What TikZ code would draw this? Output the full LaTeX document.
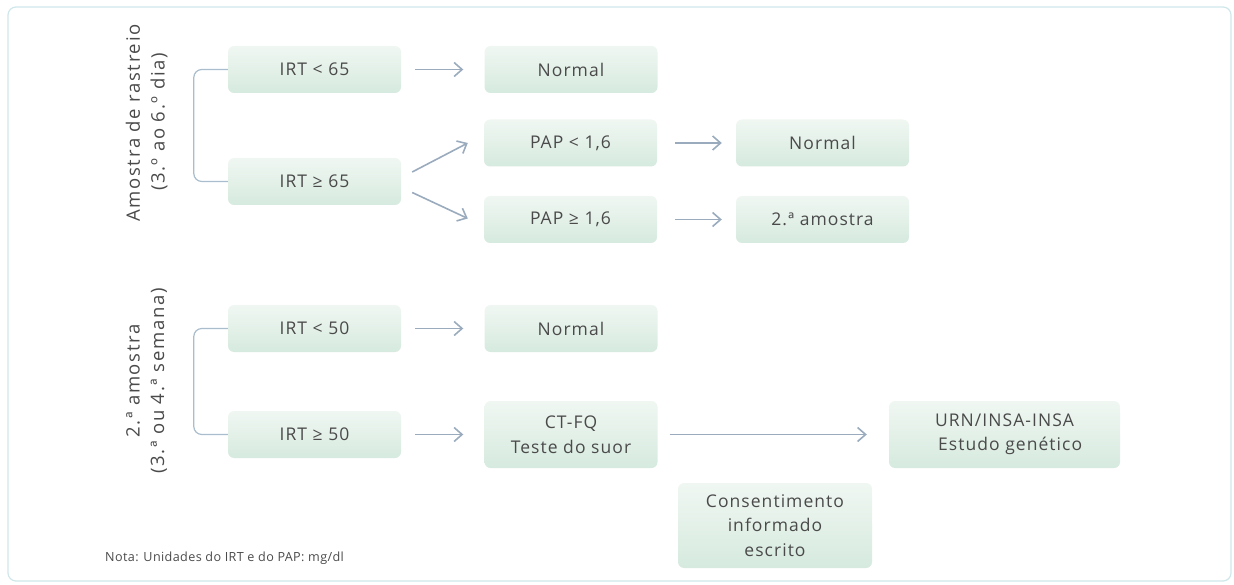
\documentclass[tikz,border=0pt]{standalone}
\usepackage{fontspec}
\setmainfont{Open Sans}[LetterSpace=6]
\usetikzlibrary{arrows.meta}
\definecolor{txt}{HTML}{4A4A4A}
\definecolor{arr}{HTML}{9AABBD}
\definecolor{brk}{HTML}{A9BDCC}
\definecolor{framec}{HTML}{D0E7EA}
\definecolor{boxtop}{HTML}{F0F7F2}
\definecolor{boxbot}{HTML}{D6EADF}
\begin{document}
\begin{tikzpicture}[x=1pt,y=-1pt,
  box/.style={rounded corners=6pt, top color=boxtop, bottom color=boxbot,
    minimum width=173pt, minimum height=47pt, text=txt,
    font=\fontsize{17.5}{24.5}\selectfont, align=center, inner sep=0pt},
  conn/.style={draw=arr, line width=1.6pt, -{Straight Barb[length=8pt,width=14pt]}},
  bracket/.style={draw=brk, line width=1.2pt, rounded corners=8pt},
  side/.style={rotate=90, text=txt, font=\fontsize{18.5}{22}\selectfont\addfontfeatures{LetterSpace=9}, inner sep=0pt},
]
\useasboundingbox (0,0) rectangle (1234,585);
\draw[framec, line width=1.2pt, rounded corners=8pt] (8,7) rectangle (1231,581);

% side labels
\node[side] (l1) at (133,123) {Amostra de rastreio};
\node[side] (l2) at (159,122) {(3.º ao 6.º dia)};
\node[side] (l3) at (133,381) {2.ª amostra};
\node[side] (l4) at (159,381) {(3.ª ou 4.ª semana)};

% boxes
\node[box] (a1) at (314.5,69.5) {IRT < 65};
\node[box] (a2) at (571,69.5) {Normal};
\node[box] (b1) at (314.5,181.5) {IRT ≥ 65};
\node[box] (p1) at (570.5,143) {PAP < 1,6};
\node[box] (n2) at (822.5,143) {Normal};
\node[box] (p2) at (570.5,219.5) {PAP ≥ 1,6};
\node[box] (s2) at (822.5,219.5) {2.ª amostra};
\node[box] (c1) at (314.5,328.5) {IRT < 50};
\node[box] (n3) at (571,328.5) {Normal};
\node[box] (c2) at (314.5,434.5) {IRT ≥ 50};
\node[box, minimum height=67pt] (ct) at (571,434.5) {CT-FQ\\Teste do suor};
\node[box, minimum height=67pt, minimum width=231pt] (urn) at (1004.5,434.5) {URN/INSA-INSA\\\ \ Estudo genético};
\node[box, minimum height=85pt, minimum width=194pt] (cons) at (775,525.5) {Consentimento\\informado\\escrito};

\node[anchor=west, text=txt, font=\fontsize{12.6}{15}\selectfont\addfontfeatures{LetterSpace=3}, inner sep=0pt] (nota) at (105,558) {Nota: Unidades do IRT e do PAP: mg/dl};

% brackets
\draw[bracket] (a1.west) -- ++(-34,0) |- (b1.west);
\draw[bracket] (c1.west) -- ++(-34,0) |- (c2.west);

% connectors
\draw[conn] ([xshift=14pt]a1.east) -- ([xshift=-21pt]a2.west);
\draw[conn] ([shift={(11,-9.5)}]b1.east) -- ([shift={(-16,0)}]p1.west);
\draw[conn] ([shift={(11,11)}]b1.east) -- ([shift={(-16,-1)}]p2.west);
\draw[conn] ([xshift=18pt]p1.east) -- ([xshift=-14pt]n2.west);
\draw[conn] ([xshift=18pt]p2.east) -- ([xshift=-14pt]s2.west);
\draw[conn] ([xshift=14pt]c1.east) -- ([xshift=-21pt]n3.west);
\draw[conn] ([xshift=14pt]c2.east) -- ([xshift=-21pt]ct.west);
\draw[conn] ([xshift=12pt]ct.east) -- ([xshift=-22pt]urn.west);
\end{tikzpicture}
\end{document}
